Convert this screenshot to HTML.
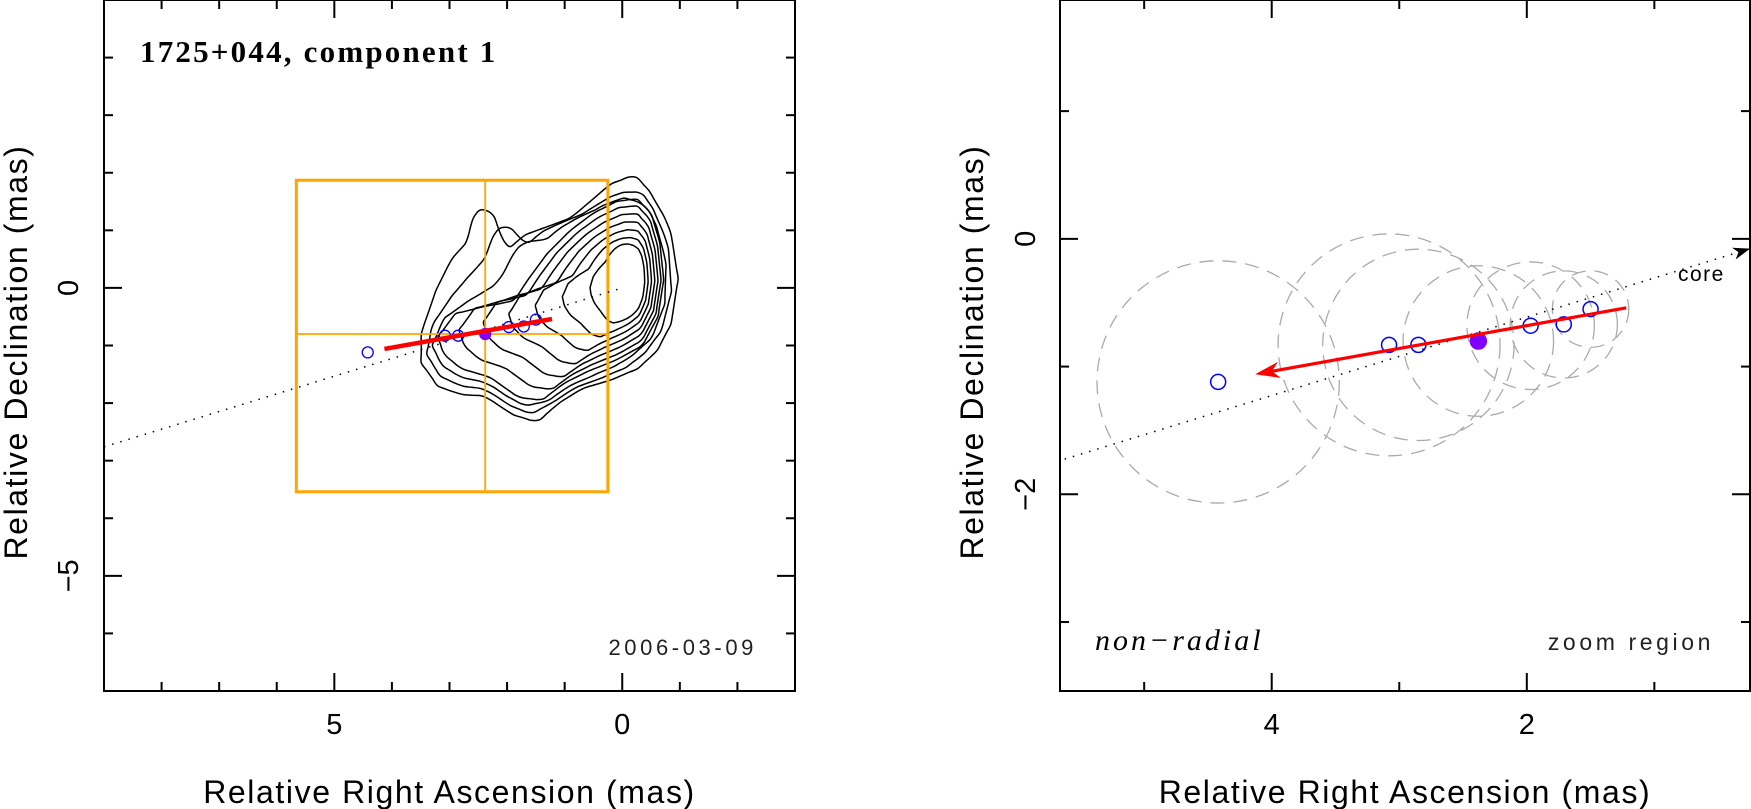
<!DOCTYPE html>
<html><head><meta charset="utf-8"><style>
html,body{margin:0;padding:0;background:#fff;}
svg{display:block;font-family:"Liberation Sans",sans-serif;}
</style></head><body>
<svg id="chart" width="1751" height="809" viewBox="0 0 1751 809" xmlns="http://www.w3.org/2000/svg">
<g id="left"></g>
<g id="right"></g>
</svg>
<script>
// ---- data ----
const compRA   = [4.42, 3.08, 2.85, 2.38, 1.97, 1.71, 1.50];
const compDec  = [-1.12, -0.83, -0.83, -0.80, -0.68, -0.67, -0.55];
const compFilled = [0, 0, 0, 1, 0, 0, 0];
const compSize = [0.95, 0.87, 0.75, 0.59, 0.50, 0.42, 0.30];
const fitStart = [1.22, -0.54];
const fitEnd   = [4.13, -1.06];
const ridgeStart = [9.0, -2.76];
const ridgeEnd = [0.0, 0.0];
const zoomBox = [5.66, 0.25, 1.87, -3.54];
const contourOuterRA  = [2.45,2.25,2.1,1.98,1.67,1.2,0.89,0.5,0.21,-0.21,-0.46,-0.75,-0.85,-0.97,-0.85,-0.6,-0.27,0.2,0.70,1.1,1.48,1.9,2.39,2.8,3.2,3.49,3.49,3.23,2.97,2.7,2.6];
const contourOuterDec = [1.38,1.30,0.9,0.69,0.93,1.1,1.22,1.55,1.80,1.96,1.70,1.2,0.93,0.16,-0.62,-1.1,-1.40,-1.6,-1.75,-2.0,-2.33,-2.2,-1.88,-1.85,-1.71,-1.30,-0.78,-0.03,0.49,0.8,1.2];
const contourMidRA  = [2.39,2.1,1.87,1.64,1.3,0.9,0.5,0.1,-0.25,-0.5,-0.65,-0.72,-0.62,-0.35,0.1,0.6,1.0,1.4,1.8,2.3,2.8,3.1,3.2,2.9];
const contourMidDec = [-0.32,-0.27,-0.21,0.14,0.6,1.0,1.3,1.5,1.55,1.3,0.8,0.15,-0.5,-1.0,-1.25,-1.45,-1.65,-1.95,-1.9,-1.55,-1.4,-1.15,-0.85,-0.45];
const peak = [-0.13, 0.16, 0.2, 0.55];
const leftXTicks = [5, 0];
const leftYTicks = [0, -5];
const rightXTicks = [4, 2];
const rightYTicks = [0, -2];

const NS = "http://www.w3.org/2000/svg";
function el(parent, tag, attrs, text){
  const e = document.createElementNS(NS, tag);
  for (const k in attrs) e.setAttribute(k, attrs[k]);
  if (text !== undefined) e.textContent = text;
  parent.appendChild(e); return e;
}
function makeAxes(x0, y0, w, h, raL, raR, decT, decB){
  return {
    x: v => x0 + (raL - v) / (raL - raR) * w,
    y: v => y0 + (decT - v) / (decT - decB) * h,
    s: w / (raL - raR), x0, y0, w, h, raL, raR, decT, decB
  };
}
function frame(g, A, xMajor, yMajor, xMinStep, yMinStep, xLabels, yLabels, yTitleX, yTickX){
  const r = el(g,'rect',{x:A.x0,y:A.y0,width:A.w,height:A.h,fill:'none',stroke:'#000','stroke-width':2});
   
  const ticks = el(g,'g',{stroke:'#000','stroke-width':2});
   
  const lo = Math.ceil(Math.min(A.raL,A.raR)/xMinStep)*xMinStep;
  for (let v = lo; v <= Math.max(A.raL,A.raR)+1e-9; v += xMinStep){
    const X = A.x(v); const maj = Math.abs(v/xMajor - Math.round(v/xMajor))<1e-6; const L = maj?18:9;
    el(ticks,'line',{x1:X,y1:A.y0+A.h,x2:X,y2:A.y0+A.h-L});
    el(ticks,'line',{x1:X,y1:A.y0,x2:X,y2:A.y0+L});
  }
  const lo2 = Math.ceil(Math.min(A.decT,A.decB)/yMinStep)*yMinStep;
  for (let v = lo2; v <= Math.max(A.decT,A.decB)+1e-9; v += yMinStep){
    const Y = A.y(v); const maj = Math.abs(v/yMajor - Math.round(v/yMajor))<1e-6; const L = maj?18:9;
    el(ticks,'line',{x1:A.x0,y1:Y,x2:A.x0+L,y2:Y});
    el(ticks,'line',{x1:A.x0+A.w,y1:Y,x2:A.x0+A.w-L,y2:Y});
  }
  xLabels.forEach(v=>{
    const t = el(g,'text',{x:A.x(v),y:734,'font-size':29,'text-anchor':'middle'}, String(v).replace('-','\u2212'));
     
  });
  yLabels.forEach(v=>{
    const X = yTickX, Y = A.y(v);
    const t = el(g,'text',{x:X,y:Y,'font-size':29,'text-anchor':'middle',transform:`rotate(-90 ${X} ${Y})`}, String(v).replace('-','\u2212'));
     
  });
  const xt = el(g,'text',{x:A.x0+A.w/2,y:803,'font-size':32,'letter-spacing':1.6,'text-anchor':'middle'},'Relative Right Ascension (mas)');
   
  const cy = 352;
  const yt = el(g,'text',{x:yTitleX,y:cy,'font-size':32,'letter-spacing':1.6,'text-anchor':'middle',transform:`rotate(-90 ${yTitleX} ${cy})`},'Relative Declination (mas)');
   
}
function smoothPath(pts){
  const n = pts.length; let d = `M${pts[0][0]},${pts[0][1]}`;
  for (let i=0;i<n;i++){
    const p0=pts[(i-1+n)%n], p1=pts[i], p2=pts[(i+1)%n], p3=pts[(i+2)%n];
    const c1=[p1[0]+(p2[0]-p0[0])/6, p1[1]+(p2[1]-p0[1])/6];
    const c2=[p2[0]-(p3[0]-p1[0])/6, p2[1]-(p3[1]-p1[1])/6];
    d += ` C${c1[0]},${c1[1]} ${c2[0]},${c2[1]} ${p2[0]},${p2[1]}`;
  }
  return d + 'Z';
}
function resample(ras, decs, N){
  let s = 0; for (let i=1;i<ras.length;i++) if (ras[i]>ras[s]) s=i;
  const P = []; for (let i=0;i<=ras.length;i++){ const j=(s+i)%ras.length; P.push([ras[j],decs[j]]); }
  const cum=[0]; for (let i=1;i<P.length;i++) cum.push(cum[i-1]+Math.hypot(P[i][0]-P[i-1][0],P[i][1]-P[i-1][1]));
  const tot=cum[cum.length-1], out=[]; let j=0;
  for (let k=0;k<N;k++){ const d=tot*k/N; while(cum[j+1]<d) j++; const f=(d-cum[j])/(cum[j+1]-cum[j]||1);
    out.push([P[j][0]+(P[j+1][0]-P[j][0])*f, P[j][1]+(P[j+1][1]-P[j][1])*f]); }
  return out;
}

// ---- left panel ----
const gL = document.getElementById('left');
const L = makeAxes(104, 0, 691, 691, 9, -3, 5, -7);
const cg = el(gL,'g',{fill:'none',stroke:'#000','stroke-width':1.5});
 
const NS_ = 90;
const shOuter = resample(contourOuterRA, contourOuterDec, NS_);
const shMid = resample(contourMidRA, contourMidDec, NS_);
const shInner = []; for (let k=0;k<NS_;k++){ const th=2*Math.PI*k/NS_; shInner.push([peak[0]+peak[2]*Math.cos(th), peak[1]+peak[3]*Math.sin(th)]); }
for (let k=0;k<10;k++){
  let A, B, t;
  if (k<=3){ A=shOuter; B=shMid; t=k/3; } else { A=shMid; B=shInner; t=Math.pow((k-3)/7,1.1); }
  const pts = A.map((p,i)=>[L.x(p[0]+(B[i][0]-p[0])*t), L.y(p[1]+(B[i][1]-p[1])*t)]);
  const p = el(cg,'path',{d:smoothPath(pts)});
   
}
const zb = el(gL,'g',{fill:'none',stroke:'#ffa500'});
 
el(zb,'rect',{x:L.x(zoomBox[0]),y:L.y(zoomBox[2]),width:L.x(zoomBox[1])-L.x(zoomBox[0]),height:L.y(zoomBox[3])-L.y(zoomBox[2]),'stroke-width':3});
const fi = compFilled.indexOf(1);
el(zb,'line',{x1:L.x(compRA[fi]),y1:L.y(zoomBox[2]),x2:L.x(compRA[fi]),y2:L.y(zoomBox[3]),'stroke-width':1.8});
el(zb,'line',{x1:L.x(zoomBox[0]),y1:L.y(compDec[fi]),x2:L.x(zoomBox[1]),y2:L.y(compDec[fi]),'stroke-width':1.8});
const rl = el(gL,'line',{x1:L.x(ridgeStart[0]),y1:L.y(ridgeStart[1]),x2:L.x(ridgeEnd[0]),y2:L.y(ridgeEnd[1]),stroke:'#000','stroke-width':1.5,'stroke-dasharray':'1.5 7'});
 
compRA.forEach((ra,i)=>{
  const c = el(gL,'circle',{cx:L.x(ra),cy:L.y(compDec[i]),r:5.5,fill:compFilled[i]?'#8000ff':'none',stroke:compFilled[i]?'#8000ff':'#0000ff','stroke-width':1.3});
   
});
const fl = el(gL,'line',{x1:L.x(fitStart[0]),y1:L.y(fitStart[1]),x2:L.x(fitEnd[0]),y2:L.y(fitEnd[1]),stroke:'#ff0000','stroke-width':4.5});
 
frame(gL, L, 5, 5, 1, 1, leftXTicks, leftYTicks, 27, 78);
const tt = el(gL,'text',{x:140,y:62,'font-size':31,'letter-spacing':2.2,'font-weight':'bold','font-family':'"Liberation Serif",serif'},'1725+044, component 1');
 
const dt = el(gL,'text',{x:757,y:655,'font-size':22,'letter-spacing':3.6,'text-anchor':'end',fill:'#222'},'2006-03-09');
 

// ---- right panel ----
const gR = document.getElementById('right');
const R = makeAxes(1060, 0, 690, 691, zoomBox[0], zoomBox[1], zoomBox[2], zoomBox[3]);
const cl = el(gR,'defs',{});
const cp = el(cl,'clipPath',{id:'rclip'}); el(cp,'rect',{x:1060,y:0,width:690,height:691});
const dg = el(gR,'g',{fill:'none',stroke:'#aaa','stroke-width':1.3,'stroke-dasharray':'14 9','clip-path':'url(#rclip)'});
 
compRA.forEach((ra,i)=>{
  const c = el(dg,'circle',{cx:R.x(ra),cy:R.y(compDec[i]),r:compSize[i]*R.s});
   
});
const rr = el(gR,'line',{x1:R.x(ridgeStart[0]),y1:R.y(ridgeStart[1]),x2:R.x(zoomBox[1]),y2:R.y(zoomBox[1]*ridgeStart[1]/ridgeStart[0]),stroke:'#000','stroke-width':1.5,'stroke-dasharray':'1.5 7','clip-path':'url(#rclip)'});
 
const ax = R.x(zoomBox[1]), ay = R.y(zoomBox[1]*ridgeStart[1]/ridgeStart[0]);
const ang = Math.atan2(ay - R.y(ridgeStart[1]), ax - R.x(ridgeStart[0]));
const ah = el(gR,'path',{d:`M${ax},${ay} L${ax-18*Math.cos(ang-0.35)},${ay-18*Math.sin(ang-0.35)} L${ax-12*Math.cos(ang)},${ay-12*Math.sin(ang)} L${ax-18*Math.cos(ang+0.35)},${ay-18*Math.sin(ang+0.35)}Z`,fill:'#000'});
 
compRA.forEach((ra,i)=>{
  const c = el(gR,'circle',{cx:R.x(ra),cy:R.y(compDec[i]),r:compFilled[i]?8:7.5,fill:compFilled[i]?'#8000ff':'none',stroke:compFilled[i]?'#8000ff':'#0000ff','stroke-width':1.5});
   
});
const fx1=R.x(fitStart[0]), fy1=R.y(fitStart[1]), fx2=R.x(fitEnd[0]), fy2=R.y(fitEnd[1]);
const fa = Math.atan2(fy2-fy1, fx2-fx1);
const fg = el(gR,'g',{});
 
el(fg,'line',{x1:fx1,y1:fy1,x2:fx2-8*Math.cos(fa),y2:fy2-8*Math.sin(fa),stroke:'#ff0000','stroke-width':3.2});
el(fg,'path',{d:`M${fx2},${fy2} L${fx2-26*Math.cos(fa-0.32)},${fy2-26*Math.sin(fa-0.32)} L${fx2-17*Math.cos(fa)},${fy2-17*Math.sin(fa)} L${fx2-26*Math.cos(fa+0.32)},${fy2-26*Math.sin(fa+0.32)}Z`,fill:'#ff0000'});
frame(gR, R, 2, 2, 1, 1, rightXTicks, rightYTicks, 983, 1035);
const ct = el(gR,'text',{x:1678,y:281,'font-size':21,'letter-spacing':1.5},'core');
 
const nr = el(gR,'text',{x:1095,y:650,'font-size':30,'letter-spacing':3,'font-style':'italic','font-family':'"Liberation Serif",serif'},'non\u2212radial');
 
const zr = el(gR,'text',{x:1714,y:650,'font-size':23,'letter-spacing':3.6,'text-anchor':'end',fill:'#222'},'zoom region');
 
</script>
</body></html>
